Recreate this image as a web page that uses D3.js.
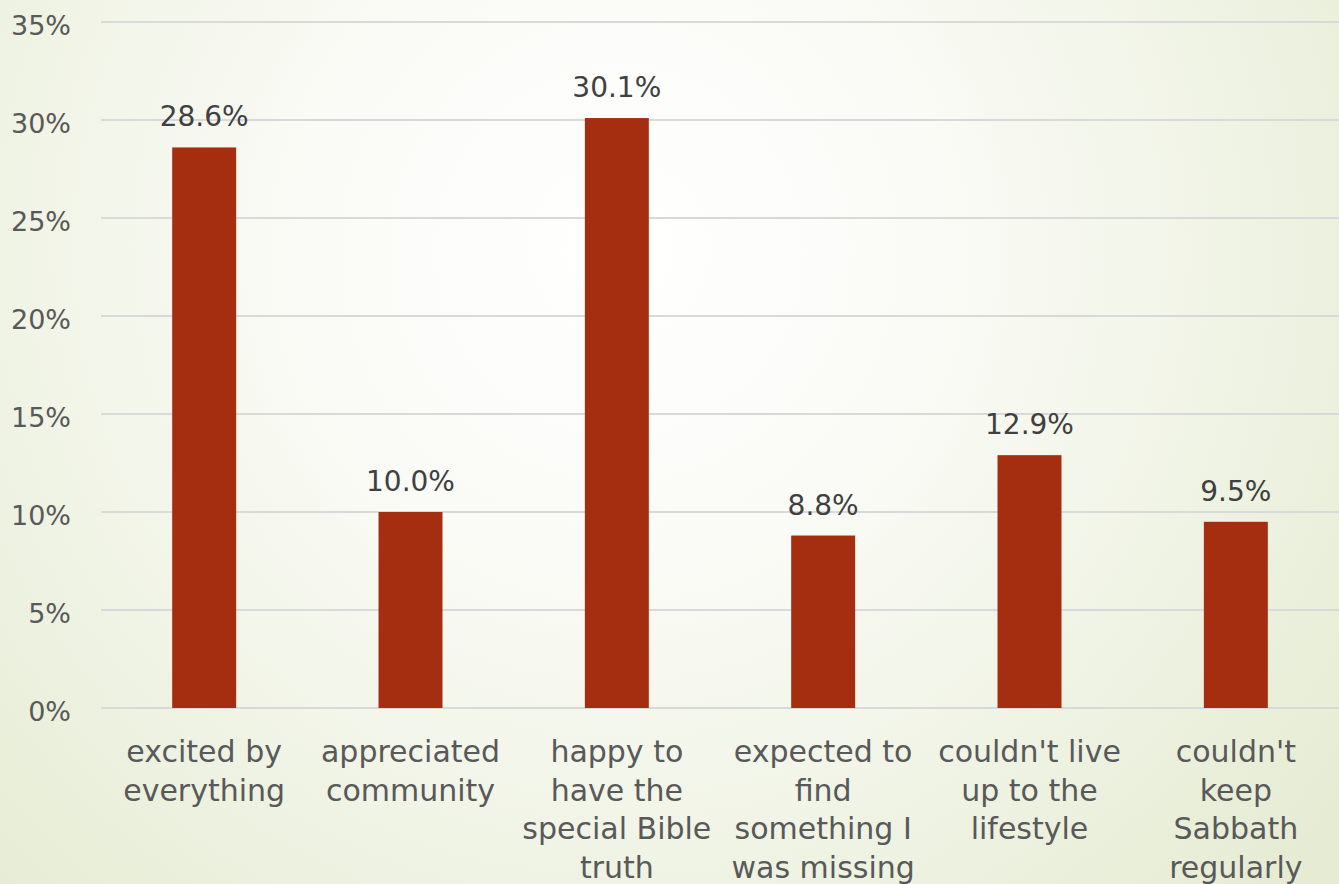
<!DOCTYPE html>
<html>
<head>
<meta charset="utf-8">
<script src="https://cdn.jsdelivr.net/npm/d3@7"></script>
<style>
html,body{margin:0;padding:0;overflow:hidden;}
svg{display:block;}
</style>
</head>
<body>
<svg id="chart" width="1339" height="884"></svg>
<script>
const categories = [
  ["excited by","everything"],
  ["appreciated","community"],
  ["happy to","have the","special Bible","truth"],
  ["expected to","find","something I","was missing"],
  ["couldn't live","up to the","lifestyle"],
  ["couldn't","keep","Sabbath","regularly"]
];
const values = [28.6, 10.0, 30.1, 8.8, 12.9, 9.5];
const yTicks = [0, 5, 10, 15, 20, 25, 30, 35];

const W = 1339, H = 884;
const margin = {left: 101, right: 0, top: 22, bottom: 176};
const svg = d3.select("#chart");

const defs = svg.append("defs");
const grad = defs.append("radialGradient").attr("id","bg")
  .attr("gradientUnits","userSpaceOnUse")
  .attr("cx",620).attr("cy",250).attr("r",900);
grad.append("stop").attr("offset","0").attr("stop-color","#ffffff");
grad.append("stop").attr("offset","0.35").attr("stop-color","#fafbf6");
grad.append("stop").attr("offset","1").attr("stop-color","#e6ecd4");
svg.append("rect").attr("width",W).attr("height",H).attr("fill","url(#bg)");

const font = "'DejaVu Sans', sans-serif";
const ids = values.map((d,i)=>i);
const x = d3.scaleBand().domain(ids).range([margin.left, W - margin.right])
  .paddingInner(0.69).paddingOuter(0.345);
const y = d3.scaleLinear().domain([0,35]).range([H - margin.bottom, margin.top]);

// gridlines
svg.append("g").selectAll("line").data(yTicks).join("line")
  .attr("x1", margin.left).attr("x2", W)
  .attr("y1", d=>y(d)).attr("y2", d=>y(d))
  .attr("stroke","#d9d9d9").attr("stroke-width",2);

// y axis labels
const yAxis = d3.axisLeft(y).tickValues(yTicks).tickFormat(d=>d+"%").tickSize(0).tickPadding(0);
const ya = svg.append("g").attr("transform",`translate(71,0)`).call(yAxis);
ya.select(".domain").remove();
ya.selectAll("text").attr("font-family",font).attr("font-size",27).attr("fill","#595959").attr("dy","0.45em");

// bars
svg.append("g").selectAll("rect").data(values).join("rect")
  .attr("x",(d,i)=>x(i)).attr("width",x.bandwidth())
  .attr("y",d=>y(d)).attr("height",d=>y(0)-y(d))
  .attr("fill","#a52e10");

// value labels
svg.append("g").selectAll("text").data(values).join("text")
  .attr("x",(d,i)=>x(i)+x.bandwidth()/2).attr("y",d=>y(d)-21)
  .attr("text-anchor","middle").attr("font-family",font).attr("font-size",28)
  .attr("fill","#404040").text(d=>d.toFixed(1)+"%");

// category labels
const cg = svg.append("g").selectAll("text").data(categories).join("text")
  .attr("text-anchor","middle").attr("font-family",font).attr("font-size",30)
  .attr("fill","#595959");
cg.each(function(lines,i){
  const t = d3.select(this);
  lines.forEach((ln,j)=>{
    t.append("tspan").attr("x", x(i)+x.bandwidth()/2).attr("y", 762 + j*38.5).text(ln);
  });
});
</script>
</body>
</html>
